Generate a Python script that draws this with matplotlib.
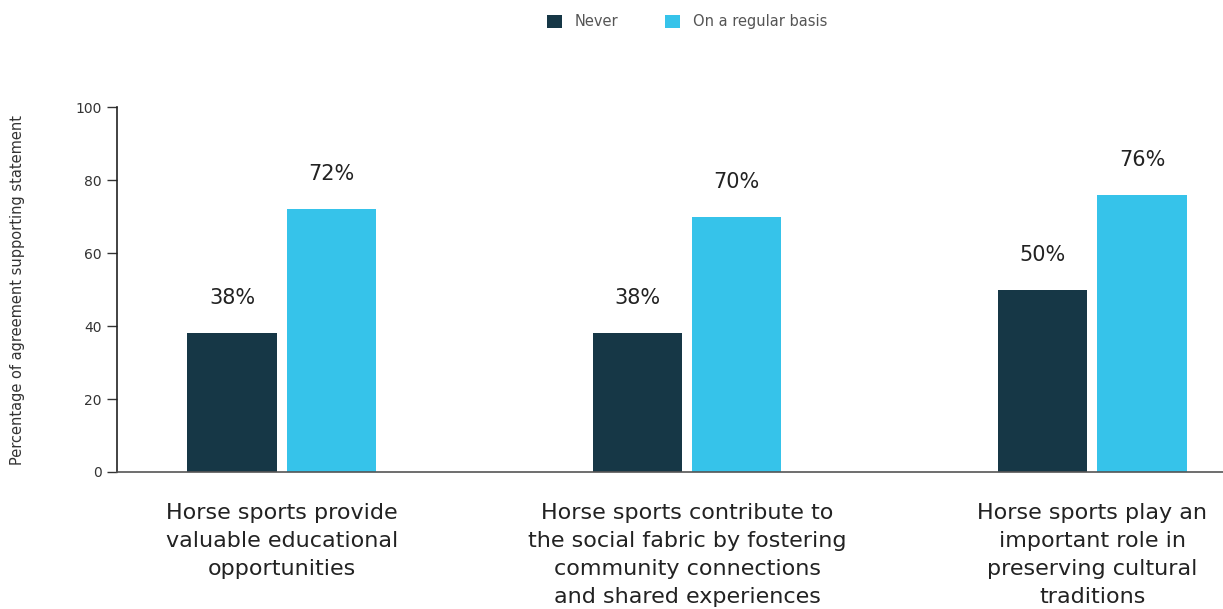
import numpy as np
import matplotlib.pyplot as plt

# ---- data ----
categories = [
    "Horse sports provide\nvaluable educational\nopportunities",
    "Horse sports contribute to\nthe social fabric by fostering\ncommunity connections\nand shared experiences",
    "Horse sports play an\nimportant role in\npreserving cultural\ntraditions",
]
never = [38, 38, 50]
regular = [72, 70, 76]
series_names = ["Never", "On a regular basis"]

dark = "#163746"
light = "#36c3ea"
txt = "#222222"

plt.rcParams['font.family'] = ['DejaVu Sans']

fig = plt.figure(figsize=(12.23, 6.09), dpi=100)
ax = fig.add_axes([0.0957, 0.225, 0.9043, 0.599])

x = np.arange(len(categories))
w = 0.22
gap = 0.0245
b1 = ax.bar(x - (w + gap) / 2, never, w, color=dark, label=series_names[0])
b2 = ax.bar(x + (w + gap) / 2, regular, w, color=light, label=series_names[1])

# value labels above bars
for bars, vals in ((b1, never), (b2, regular)):
    for bar, v in zip(bars, vals):
        ax.annotate(f"{v}%", (bar.get_x() + bar.get_width() / 2, v),
                    xytext=(0, 35), textcoords="offset pixels",
                    ha="center", va="center", fontsize=15, color=txt)

ax.set_xlim(-0.406, 2.322)
ax.set_ylim(0, 100)
ax.set_yticks([0, 20, 40, 60, 80, 100])
ax.tick_params(axis='y', labelsize=10, colors="#333333", length=7, width=1, pad=4)
ax.set_xticks(x)
ax.set_xticklabels(categories, fontsize=16, color=txt, linespacing=1.52, va="top")
ax.tick_params(axis='x', length=0, pad=22)

for s in ("top", "right"):
    ax.spines[s].set_visible(False)
ax.spines["left"].set_color("#222222")
ax.spines["left"].set_linewidth(1.2)
ax.spines["bottom"].set_color("#555555")
ax.spines["bottom"].set_linewidth(1.2)

ax.set_ylabel("Percentage of agreement supporting statement", fontsize=10.5,
              color="#333333", labelpad=36)

fig.legend(loc="center", bbox_to_anchor=(0.562, 0.964), ncol=2, frameon=False,
           fontsize=10.5, handlelength=1.0, handleheight=1.0, columnspacing=3.2,
           handletextpad=0.9, labelcolor="#555555")

fig.savefig("out.png", dpi=100)
